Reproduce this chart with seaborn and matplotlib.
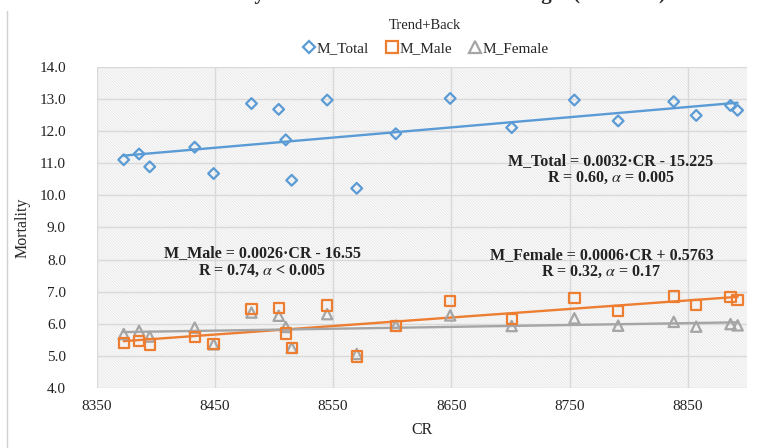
#---------------importing the libraries
import numpy as np
import pandas as pd
import matplotlib
matplotlib.use("Agg")
import matplotlib.pyplot as plt
import seaborn as sns
from matplotlib.patches import Rectangle
from matplotlib.lines import Line2D

#---------------data
cr = [8373, 8386, 8395, 8433, 8449, 8481, 8504, 8510, 8515, 8545,
      8570, 8603, 8649, 8701, 8754, 8791, 8838, 8857, 8886, 8892]
m_total = [11.11, 11.29, 10.89, 11.50, 10.68, 12.86, 12.68, 11.73, 10.47, 12.97,
           10.22, 11.92, 13.02, 12.11, 12.97, 12.32, 12.92, 12.49, 12.80, 12.65]
m_male = [5.41, 5.46, 5.35, 5.58, 5.36, 6.47, 6.50, 5.70, 5.25, 6.57,
          4.98, 5.92, 6.70, 6.14, 6.81, 6.39, 6.85, 6.58, 6.83, 6.75]
m_female = [5.68, 5.78, 5.60, 5.88, 5.36, 6.35, 6.25, 5.90, 5.25, 6.30,
            5.06, 5.94, 6.26, 5.93, 6.17, 5.94, 6.06, 5.91, 5.99, 5.95]

x_ticks = [8350, 8450, 8550, 8650, 8750, 8850]
y_ticks = [4.0, 5.0, 6.0, 7.0, 8.0, 9.0, 10.0, 11.0, 12.0, 13.0, 14.0]

df = pd.DataFrame({"CR": cr, "M_Total": m_total, "M_Male": m_male, "M_Female": m_female})

sns.set_style("white")
plt.rcParams["font.family"] = ["Liberation Serif", "DejaVu Serif"]
plt.rcParams["mathtext.fontset"] = "stix"
plt.rcParams["hatch.linewidth"] = 0.5

fig = plt.figure(figsize=(7.69, 4.48), dpi=100)
ax = fig.add_axes([0.1255, 0.134, 0.846, 0.7165])

#----------hatched background of the plot area
ax.add_patch(Rectangle((0, 0), 1, 1, transform=ax.transAxes, facecolor="#fbfbfb",
                       edgecolor="#e4e4e4", hatch="\\" * 12, lw=0, zorder=0))

series = [("M_Total", "#5B9BD5", "D", 30),
          ("M_Male", "#ED7D31", "s", 55),
          ("M_Female", "#A5A5A5", "^", 55)]

#----------trend lines first, markers on top
for name, col, mk, sz in series:
    sns.regplot(data=df, x="CR", y=name, ax=ax, scatter=False, ci=None,
                line_kws={"color": col, "lw": 1.7, "zorder": 2})

for name, col, mk, sz in series[::-1]:
    ax.scatter(df["CR"], df[name], marker=mk, s=sz, facecolors="none",
               edgecolors=col, linewidths=1.6, zorder=3)

ax.set_xlim(8350, 8900)
ax.set_ylim(4.0, 14.0)
ax.set_xticks(x_ticks)
ax.set_yticks(y_ticks)
ax.set_yticklabels([f"{v:.1f}" for v in y_ticks])
ax.tick_params(axis="both", length=0, labelsize=11, colors="#222222")
ax.tick_params(axis="x", pad=9)
ax.tick_params(axis="y", pad=22)
ax.grid(True, color="#d9d9d9", lw=1.0, zorder=1)
ax.set_axisbelow(True)
for s in ax.spines.values():
    s.set_visible(False)

ax.set_xlabel("CR", fontsize=11.5, labelpad=6)
ax.set_ylabel("Mortality", fontsize=11.5, labelpad=6)

#----------equations
kw = dict(fontsize=11.5, fontweight="bold", ha="center", va="center", color="#222222", zorder=4)
ax.text(8785, 11.08, "M_Total = 0.0032·CR - 15.225", **kw)
ax.text(8785, 10.55, r"R = 0.60, $\alpha$ = 0.005", **kw)
ax.text(8490, 8.20, "M_Male = 0.0026·CR - 16.55", **kw)
ax.text(8490, 7.64, r"R = 0.74, $\alpha$ < 0.005", **kw)
ax.text(8777, 8.13, "M_Female = 0.0006·CR + 0.5763", **kw)
ax.text(8777, 7.61, r"R = 0.32, $\alpha$ = 0.17", **kw)

#----------legend on top
handles = [Line2D([], [], ls="none", marker=mk, markersize=(6 if mk == "D" else 8),
                  markerfacecolor="none", markeredgecolor=col, markeredgewidth=1.6)
           for name, col, mk, sz in series]
leg = fig.legend(handles, [s[0] for s in series], loc="center", bbox_to_anchor=(0.553, 0.918),
                 ncol=3, frameon=False, fontsize=11, handletextpad=0.0, columnspacing=1.0,
                 handlelength=1.0, title="Trend+Back", title_fontsize=10.5)
leg._legend_box.sep = 7

#----------cut-off title line above and the frame line on the left
fig.text(0.553, 1.014, "Mortality and climate anomalies in Georgia (real data).",
         ha="center", va="center", fontsize=15, fontweight="bold")
fig.add_artist(Line2D([0.009, 0.009], [0.0, 0.975], transform=fig.transFigure,
                      color="#d0d0d0", lw=1.0))

fig.savefig("out.png", dpi=100)
